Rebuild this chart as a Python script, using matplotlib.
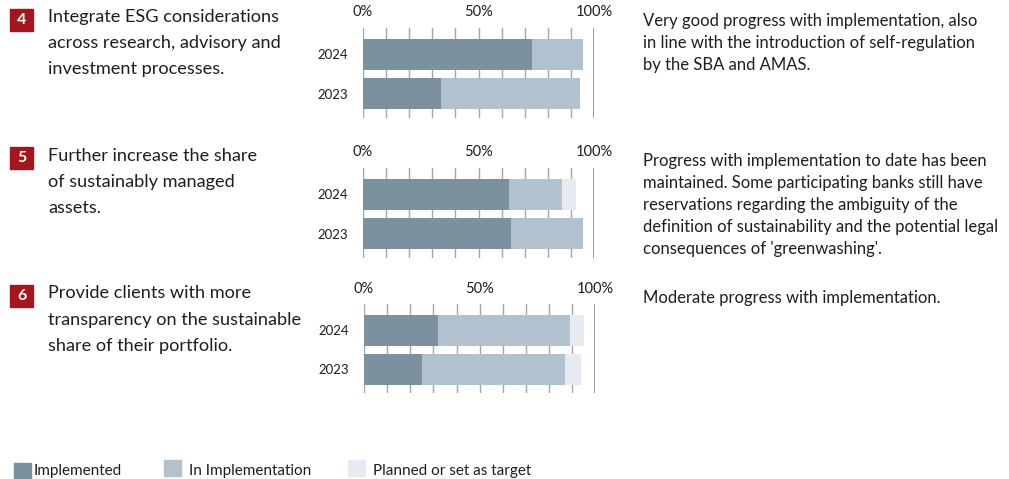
import matplotlib
matplotlib.use("Agg")
import matplotlib.pyplot as plt
from matplotlib.patches import Rectangle

W, H = 1009, 479
plt.rcParams['font.family'] = ['Lato', 'DejaVu Sans']

# Data
years = ["2023", "2024"]
goal_numbers = ["4", "5", "6"]
implemented = [[34, 73], [64, 63], [25, 32]]
in_implementation = [[60, 22], [31, 23], [62, 57]]
planned = [[0, 0], [0, 6], [7, 6]]
goal_text = [
    ["Integrate ESG considerations", "across research, advisory and", "investment processes."],
    ["Further increase the share", "of sustainably managed", "assets."],
    ["Provide clients with more", "transparency on the sustainable", "share of their portfolio."],
]
comment_text = [
    ["Very good progress with implementation, also",
     "in line with the introduction of self-regulation",
     "by the SBA and AMAS."],
    ["Progress with implementation to date has been",
     "maintained. Some participating banks still have",
     "reservations regarding the ambiguity of the",
     "definition of sustainability and the potential legal",
     "consequences of 'greenwashing'."],
    ["Moderate progress with implementation."],
]
legend_labels = ["Implemented", "In Implementation", "Planned or set as target"]
tick_values = [0, 50, 100]
tick_labels = ["0%", "50%", "100%"]

c_impl = "#7b929e"
c_inimpl = "#b1c1cd"
c_plan = "#e6ebf2"
c_red = "#a3161f"
c_text = "#1e1e1e"

fig = plt.figure(figsize=(W / 100, H / 100), dpi=100)


def fx(x):
    return x / W


def fy(y):
    return 1 - y / H


# Panel layout in pixel space: (chart left, chart right, tick top, tick bottom, row offset)
panels = [
    dict(x0=362.7, x1=594.3, top=27.7, bot=117.7, dy=0),
    dict(x0=362.7, x1=594.3, top=167.7, bot=257.7, dy=140),
    dict(x0=364.0, x1=595.3, top=304.0, bot=393.3, dy=277),
]
left_line_y = [[17, 43, 69], [156, 182, 208], [293, 320, 346]]
badge_y = [9, 147, 285]

for i, p in enumerate(panels):
    ax = fig.add_axes([fx(p["x0"]), fy(p["bot"]), fx(p["x1"] - p["x0"]),
                       (p["bot"] - p["top"]) / H])
    ax.set_xlim(0, 100)
    ax.set_ylim(-0.617, 1.679)
    for v in range(0, 100, 10):
        ax.axvline(v, color="#a6a6a6", lw=1.0, zorder=0)
    ax.axvline(100, color="#8c8c8c", lw=1.2, zorder=0)
    ypos = [0, 1]
    h = 0.79
    ax.barh(ypos, implemented[i], height=h, color=c_impl, zorder=2, linewidth=0)
    ax.barh(ypos, in_implementation[i], left=implemented[i], height=h,
            color=c_inimpl, zorder=2, linewidth=0)
    lefts = [a + b for a, b in zip(implemented[i], in_implementation[i])]
    ax.barh(ypos, planned[i], left=lefts, height=h, color=c_plan, zorder=2, linewidth=0)
    for s in ax.spines.values():
        s.set_visible(False)
    ax.xaxis.tick_top()
    ax.set_xticks(tick_values)
    ax.set_xticklabels(tick_labels, fontsize=10.5, color=c_text)
    ax.tick_params(axis="x", length=0, pad=6)
    ax.set_yticks(ypos)
    ax.set_yticklabels(years, fontsize=9.5, color=c_text)
    ax.tick_params(axis="y", length=0, pad=10.5)

    # numbered badge
    by = badge_y[i]
    fig.patches.append(Rectangle((fx(10), fy(by + 22)), fx(23), 22 / H,
                                 transform=fig.transFigure, color=c_red))
    fig.text(fx(21.5), fy(by + 11), goal_numbers[i], color="white",
             fontsize=11.5, fontweight="bold", ha="center", va="center")
    for line, ly in zip(goal_text[i], left_line_y[i]):
        fig.text(fx(48), fy(ly), line, fontsize=13.1, color=c_text,
                 ha="left", va="center")
    for k, line in enumerate(comment_text[i]):
        fig.text(fx(643), fy(p["dy"] + 21 + 22 * k), line, fontsize=12.0,
                 color=c_text, ha="left", va="center")

# Legend
legend_items = [
    (14, 463, c_impl, 34, 471.5),
    (164, 460, c_inimpl, 189, 470.5),
    (348, 460, c_plan, 373, 470.5),
]
for (sx, sy, col, tx, ty), lab in zip(legend_items, legend_labels):
    fig.patches.append(Rectangle((fx(sx), fy(sy + 16)), fx(17), 16 / H,
                                 transform=fig.transFigure, color=col))
    fig.text(fx(tx), fy(ty), lab, fontsize=11.0, color=c_text, ha="left", va="center")

fig.savefig("out.png", dpi=100)
